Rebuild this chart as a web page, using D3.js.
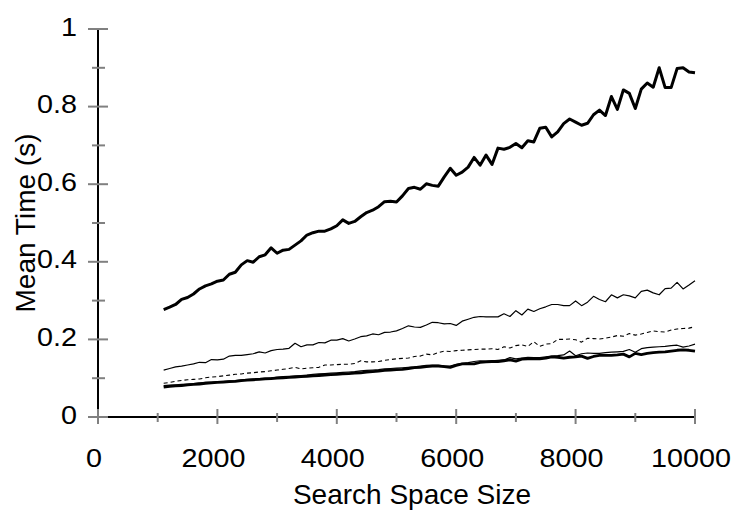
<!DOCTYPE html>
<html><head><meta charset="utf-8">
<script src="https://cdn.jsdelivr.net/npm/d3@7"></script>
<style>
html,body{margin:0;padding:0;background:#fff;}
svg{display:block;font-family:"Liberation Sans",Arial,sans-serif;}
</style></head>
<body><svg id="chart" width="733" height="511"></svg>
<script>
const sizes = [1100,1200,1300,1400,1500,1600,1700,1800,1900,2000,
2100,2200,2300,2400,2500,2600,2700,2800,2900,3000,
3100,3200,3300,3400,3500,3600,3700,3800,3900,4000,
4100,4200,4300,4400,4500,4600,4700,4800,4900,5000,
5100,5200,5300,5400,5500,5600,5700,5800,5900,6000,
6100,6200,6300,6400,6500,6600,6700,6800,6900,7000,
7100,7200,7300,7400,7500,7600,7700,7800,7900,8000,
8100,8200,8300,8400,8500,8600,8700,8800,8900,9000,
9100,9200,9300,9400,9500,9600,9700,9800,9900,10000];

const seriesTop = [0.277,0.283,0.290,0.303,0.308,0.317,0.330,0.338,0.343,0.350,
0.353,0.368,0.373,0.392,0.403,0.399,0.413,0.418,0.436,0.422,
0.430,0.432,0.443,0.454,0.469,0.475,0.479,0.479,0.485,0.493,
0.508,0.499,0.504,0.516,0.527,0.533,0.542,0.555,0.556,0.554,
0.570,0.589,0.592,0.587,0.601,0.597,0.595,0.619,0.641,0.623,
0.631,0.644,0.669,0.649,0.675,0.651,0.693,0.690,0.695,0.705,
0.694,0.712,0.709,0.744,0.747,0.722,0.735,0.756,0.768,0.760,
0.752,0.757,0.779,0.791,0.777,0.826,0.793,0.843,0.834,0.795,
0.845,0.861,0.850,0.900,0.849,0.849,0.898,0.900,0.889,0.887];

const seriesMid = [0.121,0.125,0.129,0.131,0.134,0.137,0.141,0.140,0.148,0.147,
0.149,0.157,0.159,0.159,0.161,0.163,0.168,0.165,0.171,0.174,
0.175,0.177,0.190,0.181,0.186,0.186,0.192,0.191,0.198,0.198,
0.202,0.196,0.201,0.207,0.209,0.214,0.212,0.218,0.219,0.222,
0.228,0.235,0.232,0.231,0.237,0.244,0.243,0.240,0.241,0.236,
0.247,0.252,0.257,0.259,0.258,0.258,0.258,0.266,0.259,0.274,
0.263,0.278,0.272,0.279,0.284,0.290,0.290,0.287,0.287,0.299,
0.287,0.296,0.311,0.303,0.297,0.315,0.307,0.315,0.312,0.307,
0.324,0.327,0.320,0.315,0.331,0.332,0.347,0.330,0.340,0.351];

const seriesDashed = [0.087,0.089,0.092,0.094,0.096,0.097,0.098,0.101,0.103,0.104,
0.106,0.108,0.110,0.111,0.113,0.114,0.116,0.117,0.119,0.121,
0.123,0.125,0.128,0.124,0.126,0.127,0.128,0.134,0.134,0.135,
0.136,0.136,0.138,0.145,0.142,0.142,0.143,0.146,0.148,0.150,
0.151,0.152,0.156,0.157,0.162,0.160,0.166,0.170,0.169,0.171,
0.172,0.173,0.174,0.175,0.175,0.176,0.174,0.181,0.178,0.184,
0.186,0.182,0.194,0.182,0.188,0.189,0.200,0.200,0.201,0.199,
0.193,0.203,0.202,0.201,0.203,0.206,0.210,0.208,0.215,0.211,
0.214,0.218,0.222,0.220,0.219,0.224,0.227,0.228,0.229,0.233];

const seriesLowThin = [0.081,0.082,0.083,0.084,0.085,0.086,0.088,0.089,0.090,0.091,
0.092,0.093,0.094,0.096,0.097,0.098,0.099,0.100,0.101,0.103,
0.104,0.105,0.106,0.107,0.108,0.110,0.111,0.112,0.113,0.114,
0.115,0.116,0.117,0.119,0.120,0.121,0.122,0.124,0.125,0.126,
0.127,0.128,0.129,0.131,0.133,0.134,0.134,0.132,0.131,0.136,
0.138,0.140,0.143,0.145,0.144,0.145,0.146,0.147,0.153,0.150,
0.152,0.154,0.153,0.153,0.155,0.157,0.158,0.160,0.170,0.158,
0.163,0.165,0.164,0.164,0.166,0.167,0.168,0.169,0.174,0.167,
0.176,0.179,0.180,0.181,0.182,0.184,0.185,0.180,0.183,0.188];

const seriesLowThick = [0.077,0.079,0.080,0.081,0.083,0.084,0.085,0.087,0.088,0.089,
0.090,0.091,0.092,0.094,0.095,0.096,0.097,0.098,0.099,0.100,
0.101,0.102,0.103,0.104,0.105,0.106,0.107,0.108,0.109,0.110,
0.111,0.112,0.113,0.114,0.116,0.117,0.118,0.120,0.121,0.122,
0.123,0.125,0.127,0.128,0.130,0.131,0.131,0.130,0.128,0.133,
0.137,0.137,0.137,0.141,0.142,0.143,0.143,0.145,0.147,0.144,
0.149,0.150,0.150,0.150,0.152,0.155,0.154,0.152,0.154,0.155,
0.157,0.151,0.156,0.159,0.159,0.159,0.160,0.162,0.155,0.164,
0.161,0.164,0.166,0.167,0.168,0.170,0.172,0.173,0.172,0.170];

const xMajorTicks = [0,2000,4000,6000,8000,10000];
const xMinorTicks = [1000,3000,5000,7000,9000];
const xTickLabels = ["0","2000","4000","6000","8000","10000"];
const yMajorTicks = [0,0.2,0.4,0.6,0.8,1];
const yMinorTicks = [0.1,0.3,0.5,0.7,0.9];
const yTickLabels = ["0","0.2","0.4","0.6","0.8","1"];
const xTitle = "Search Space Size";
const yTitle = "Mean Time (s)";

const svg = d3.select("#chart");
const x = d3.scaleLinear().domain([0,10000]).range([98,695]);
const y = d3.scaleLinear().domain([0,1]).range([417,29]);

// axis lines
svg.append("line").attr("x1",x(0)).attr("x2",x(0)).attr("y1",y(0)).attr("y2",y(1))
  .attr("stroke","#000").attr("stroke-width",2);
svg.append("line").attr("x1",x(0)).attr("x2",x(10000)).attr("y1",y(0)).attr("y2",y(0))
  .attr("stroke","#000").attr("stroke-width",2);

const tickColor = "#808080";
// x ticks
svg.selectAll(".xmaj").data(xMajorTicks).enter().append("line")
  .attr("x1",d=>x(d)).attr("x2",d=>x(d)).attr("y1",y(0)-8).attr("y2",y(0)+7)
  .attr("stroke",tickColor).attr("stroke-width",2);
svg.selectAll(".xmin").data(xMinorTicks).enter().append("line")
  .attr("x1",d=>x(d)).attr("x2",d=>x(d)).attr("y1",y(0)-4).attr("y2",y(0)+5)
  .attr("stroke",tickColor).attr("stroke-width",2);
// y ticks
svg.selectAll(".ymaj").data(yMajorTicks).enter().append("line")
  .attr("x1",x(0)-10).attr("x2",x(0)+10).attr("y1",d=>y(d)).attr("y2",d=>y(d))
  .attr("stroke",tickColor).attr("stroke-width",2);
svg.selectAll(".ymin").data(yMinorTicks).enter().append("line")
  .attr("x1",x(0)-6).attr("x2",x(0)+7).attr("y1",d=>y(d)).attr("y2",d=>y(d))
  .attr("stroke",tickColor).attr("stroke-width",2);

// tick labels
svg.selectAll(".xl").data(xMajorTicks).enter().append("text")
  .attr("transform",d=>`translate(${x(d)-4},467) scale(1.15,1)`)
  .attr("text-anchor","middle").attr("font-size",25).attr("fill","#000")
  .text((d,i)=>xTickLabels[i]);
svg.selectAll(".yl").data(yMajorTicks).enter().append("text")
  .attr("transform",d=>`translate(77,${y(d)+6.5}) scale(1.15,1)`)
  .attr("text-anchor","end").attr("font-size",25).attr("fill","#000")
  .text((d,i)=>yTickLabels[i]);

// titles
svg.append("text").attr("x",412).attr("y",504).attr("text-anchor","middle")
  .attr("font-size",28).attr("fill","#000").text(xTitle);
svg.append("text").attr("transform","translate(35,223) rotate(-90)")
  .attr("text-anchor","middle").attr("font-size",28).attr("fill","#000").text(yTitle);

// lines
const line = d3.line().x((d,i)=>x(sizes[i])).y(d=>y(d));
const styles = [
  {data:seriesLowThin, w:1.2, dash:null},
  {data:seriesLowThick, w:2.8, dash:null},
  {data:seriesDashed, w:1.1, dash:"4,3"},
  {data:seriesMid, w:1.2, dash:null},
  {data:seriesTop, w:3, dash:null}
];
styles.forEach(s=>{
  svg.append("path").datum(s.data).attr("d",line)
    .attr("fill","none").attr("stroke","#000").attr("stroke-width",s.w)
    .attr("stroke-linejoin","round")
    .attr("stroke-dasharray",s.dash);
});
</script></body></html>
